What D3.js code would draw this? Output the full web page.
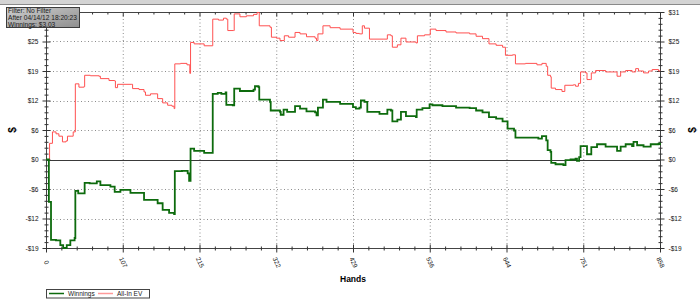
<!DOCTYPE html>
<html>
<head>
<meta charset="utf-8">
<script src="https://cdn.jsdelivr.net/npm/d3@7"></script>
<style>
  body { margin: 0; background: #fff; }
  svg { display: block; }
  text { font-family: "Liberation Sans", Arial, sans-serif; }
</style>
</head>
<body>
<div id="chart"></div>
<script>
// hand number, dollars
const winnings = [
  [0,0],[4,-8.9],[7,-16.9],[14,-17.0],[20,-18.0],[24,-18.6],[29,-18.0],[34,-17.0],[40,-16.5],
  [41,-6.6],[45,-7.1],[54,-4.9],[61,-5.0],[71,-4.6],[76,-5.4],[90,-5.7],[96,-6.8],[104,-6.4],
  [118,-7.0],[137,-8.5],[156,-9.2],[163,-10.6],[172,-11.2],[179,-11.5],[180,-2.45],[190,-2.4],
  [198,-2.9],[200,-4.5],[202,2.3],[207,1.8],[221,1.4],[233,13.8],[240,14.0],[245,13.8],[251,14.1],
  [252,11.5],[261,11.4],[263,14.9],[271,14.4],[290,14.7],[292,15.4],[297,15.2],[298,12.6],
  [313,12.1],[314,10.3],[327,10.0],[328,9.4],[332,10.5],[337,10.0],[348,11.2],[355,10.7],
  [364,10.1],[376,9.9],[378,9.3],[380,10.9],[387,12.6],[392,12.1],[411,11.7],[429,11.0],
  [433,10.7],[438,10.9],[440,12.4],[445,12.1],[449,10.0],[466,9.6],[477,10.5],[482,10.3],
  [484,8.0],[491,8.4],[496,10.0],[503,9.1],[517,8.9],[518,10.5],[526,10.8],[536,11.6],[540,11.4],
  [554,11.2],[573,10.9],[592,10.8],[601,10.3],[610,9.9],[619,8.9],[629,8.6],[638,8.0],[645,6.5],
  [654,6.1],[656,4.6],[670,4.6],[688,4.4],[693,4.9],[699,4.0],[701,1.95],[705,1.6],[706,-0.7],
  [712,-1.0],[723,-1.2],[726,-0.15],[733,0.0],[740,0.2],[742,-0.3],[745,0.5],[747,2.8],[755,2.8],
  [756,1.1],[761,1.1],[762,2.6],[770,3.2],[782,2.7],[798,1.8],[803,2.7],[810,3.2],[819,2.8],
  [821,3.7],[826,3.0],[835,2.7],[845,3.2],[856,3.35],[858,3.03]
];

const allInEV = [
  [0,0],[5,3.4],[9,5.8],[14,5.4],[18,4.9],[23,3.7],[28,3.9],[30,4.9],[35,4.9],[38,5.8],
  [41,15.9],[46,15.2],[53,15.3],[54,17.7],[62,17.6],[74,17.5],[76,17.0],[88,16.6],[96,16.5],
  [97,15.1],[100,15.8],[119,15.8],[121,14.9],[130,14.7],[137,14.2],[139,13.5],[146,13.8],
  [156,12.8],[163,11.9],[170,11.4],[176,11.2],[179,10.7],[180,20.1],[188,20.2],[197,19.9],
  [201,18.1],[202,24.6],[207,24.3],[221,23.9],[233,29.5],[241,29.3],[248,29.7],[252,29.5],
  [254,27.1],[262,27.1],[263,30.6],[271,30.0],[280,30.2],[290,30.5],[295,30.9],[298,28.1],
  [313,27.8],[315,25.7],[322,25.5],[327,25.0],[333,26.0],[339,25.7],[348,26.7],[355,26.4],
  [364,25.8],[376,25.5],[378,25.0],[380,26.4],[387,28.1],[397,27.7],[411,27.4],[429,26.7],
  [433,26.5],[438,26.4],[442,28.1],[445,27.6],[452,25.3],[471,25.3],[477,26.2],[482,26.0],
  [484,23.6],[491,24.1],[496,25.5],[503,24.7],[517,24.5],[519,26.0],[529,26.2],[537,27.4],
  [545,27.1],[559,26.8],[573,26.6],[592,26.4],[601,25.9],[610,25.4],[619,24.3],[629,24.0],
  [638,23.6],[642,21.9],[652,22.0],[656,20.1],[670,20.2],[686,19.9],[693,20.2],[699,19.6],
  [701,17.7],[705,17.4],[706,15.0],[712,14.7],[721,14.3],[725,15.6],[737,15.7],[740,15.4],
  [744,16.0],[747,18.4],[754,18.2],[756,16.8],[761,16.8],[762,18.2],[768,18.7],[782,18.4],
  [798,17.5],[803,18.4],[810,18.7],[819,18.4],[824,19.1],[828,18.6],[835,18.2],[842,18.6],
  [847,18.9],[856,18.6],[858,18.7]
];

const xTickValues = [0, 107.25, 214.5, 321.75, 429, 536.25, 643.5, 750.75, 858];
const xTickLabels = ["0", "107", "215", "322", "429", "536", "644", "751", "858"];
const yTickValues = [-18.6, -12.4, -6.2, 0, 6.2, 12.4, 18.6, 24.8, 31];
const yTickLabels = ["-$19", "-$12", "-$6", "$0", "$6", "$12", "$19", "$25", "$31"];
const seriesNames = ["Winnings", "All-In EV"];
const seriesColors = ["#0d6b0d", "#ff5050"];
const infoLines = ["Filter: No Filter", "After 04/14/12 18:20:23", "Winnings: $3.03"];

const W = 700, H = 299;
const plot = {left: 46, right: 660, top: 12, bottom: 248};

const svg = d3.select("#chart").append("svg")
  .attr("width", W)
  .attr("height", H);

// strip at the very top
svg.append("rect").attr("x", 0).attr("y", 0).attr("width", W).attr("height", 4).attr("fill", "#d4d4d4");
svg.append("line").attr("x1", 0).attr("x2", W).attr("y1", 4.5).attr("y2", 4.5).attr("stroke", "#8a8a8a");

const x = d3.scaleLinear().domain([0, 858]).range([plot.left, plot.right]);
const y = d3.scaleLinear().domain([-18.6, 31]).range([plot.bottom, plot.top]);

// minor ticks: 4 between each major
const minorX = [], minorY = [];
for (let i = 0; i < xTickValues.length - 1; i++)
  for (let k = 1; k < 5; k++) minorX.push(xTickValues[i] + (xTickValues[i+1] - xTickValues[i]) * k / 5);
for (let i = 0; i < yTickValues.length - 1; i++)
  for (let k = 1; k < 5; k++) minorY.push(yTickValues[i] + (yTickValues[i+1] - yTickValues[i]) * k / 5);

// grid
const grid = svg.append("g").attr("stroke", "#8c8c8c").attr("stroke-dasharray", "1,2.5");
grid.selectAll("line.gx").data(xTickValues.slice(1, -1)).join("line")
  .attr("x1", d => x(d) + 0.5).attr("x2", d => x(d) + 0.5)
  .attr("y1", plot.top).attr("y2", plot.bottom);
grid.selectAll("line.gy").data(yTickValues.slice(0, -1).filter(d => d !== 0)).join("line")
  .attr("y1", d => Math.round(y(d)) + 0.5).attr("y2", d => Math.round(y(d)) + 0.5)
  .attr("x1", plot.left).attr("x2", plot.right);

// zero line
svg.append("line")
  .attr("x1", plot.left).attr("x2", plot.right)
  .attr("y1", Math.round(y(0)) + 0.5).attr("y2", Math.round(y(0)) + 0.5)
  .attr("stroke", "#3a3a3a");

// frame
svg.append("rect")
  .attr("x", plot.left + 0.5).attr("y", plot.top + 0.5)
  .attr("width", plot.right - plot.left).attr("height", plot.bottom - plot.top)
  .attr("fill", "none").attr("stroke", "#444");

function crossTicks(g) {
  g.select(".domain").remove();
  g.selectAll(".tick line").attr("stroke", "#333");
}

// left axis (top label sits under the info box, so it is left out)
const leftAxis = svg.append("g").attr("transform", `translate(${plot.left + 0.5},0)`);
leftAxis.call(d3.axisLeft(y).tickValues(yTickValues)
    .tickFormat((d, i) => i === yTickValues.length - 1 ? "" : yTickLabels[i]).tickSize(4).tickPadding(4))
  .call(crossTicks);
leftAxis.selectAll(".tick line").attr("x1", 4);
leftAxis.append("g").call(d3.axisLeft(y).tickValues(minorY).tickFormat("").tickSize(2))
  .call(crossTicks).selectAll(".tick line").attr("x1", 2);

// right axis
const rightAxis = svg.append("g").attr("transform", `translate(${plot.right + 0.5},0)`);
rightAxis.call(d3.axisRight(y).tickValues(yTickValues).tickFormat((d, i) => yTickLabels[i]).tickSize(4).tickPadding(4))
  .call(crossTicks);
rightAxis.selectAll(".tick line").attr("x1", -4);
rightAxis.append("g").call(d3.axisRight(y).tickValues(minorY).tickFormat("").tickSize(2))
  .call(crossTicks).selectAll(".tick line").attr("x1", -2);

// bottom axis
const bottomAxis = svg.append("g").attr("transform", `translate(0,${plot.bottom + 0.5})`);
bottomAxis.call(d3.axisBottom(x).tickValues(xTickValues).tickFormat((d, i) => xTickLabels[i]).tickSize(4))
  .call(crossTicks);
bottomAxis.selectAll(".tick line").attr("y1", -4);
bottomAxis.append("g").call(d3.axisBottom(x).tickValues(minorX).tickFormat("").tickSize(2))
  .call(crossTicks).selectAll(".tick line").attr("y1", -2);
bottomAxis.selectAll(".tick text")
  .attr("y", 0).attr("dy", "0.35em")
  .attr("transform", "translate(0,14) rotate(65)")
  .style("text-anchor", "middle");

// top axis
const topAxis = svg.append("g").attr("transform", `translate(0,${plot.top + 0.5})`);
topAxis.call(d3.axisBottom(x).tickValues(xTickValues).tickFormat("").tickSize(4)).call(crossTicks);
topAxis.append("g").call(d3.axisBottom(x).tickValues(minorX).tickFormat("").tickSize(2)).call(crossTicks);

svg.selectAll(".tick text").attr("fill", "#111").style("font-size", "6.5px")
  .style("font-family", "'Liberation Sans', Arial, sans-serif");

// series
const line = d3.line().x(d => x(d[0])).y(d => y(d[1])).curve(d3.curveStepAfter);
svg.append("path").datum(allInEV)
  .attr("d", line).attr("fill", "none").attr("stroke", seriesColors[1]).attr("stroke-width", 1);
svg.append("path").datum(winnings)
  .attr("d", line).attr("fill", "none").attr("stroke", seriesColors[0]).attr("stroke-width", 1.8);

// axis titles
svg.append("text").attr("transform", `translate(15.5,130) rotate(-90)`)
  .attr("text-anchor", "middle").style("font-size", "10px").style("font-weight", "bold").text("$");
svg.append("text").attr("transform", `translate(696,130) rotate(-90)`)
  .attr("text-anchor", "middle").style("font-size", "10px").style("font-weight", "bold").text("$");
svg.append("text").attr("x", 353).attr("y", 282)
  .attr("text-anchor", "middle").style("font-size", "8.5px").style("font-weight", "bold").text("Hands");

// legend
const legend = svg.append("g").attr("transform", "translate(46,289)");
legend.append("rect").attr("x", 0.5).attr("y", 0.5).attr("width", 103).attr("height", 8.5)
  .attr("fill", "#fff").attr("stroke", "#444");
const legendX = [3, 52];
legend.selectAll("line.key").data(seriesNames).join("line")
  .attr("x1", (d, i) => legendX[i]).attr("x2", (d, i) => legendX[i] + 15)
  .attr("y1", 4.5).attr("y2", 4.5)
  .attr("stroke", (d, i) => i === 0 ? seriesColors[0] : "#ff9a9a")
  .attr("stroke-width", 1.5);
legend.selectAll("text").data(seriesNames).join("text")
  .attr("x", (d, i) => legendX[i] + 19).attr("y", 6.8)
  .style("font-size", "6.5px").attr("fill", "#222").text(d => d);

// info box
const defs = svg.append("defs");
const grad = defs.append("linearGradient").attr("id", "infoGrad").attr("x1", 0).attr("y1", 0).attr("x2", 1).attr("y2", 1);
grad.append("stop").attr("offset", "0%").attr("stop-color", "#cfcfcf");
grad.append("stop").attr("offset", "100%").attr("stop-color", "#8e8e8e");
const info = svg.append("g").attr("transform", "translate(6,7)");
info.append("rect").attr("x", 0.5).attr("y", 0.5).attr("width", 73).attr("height", 20)
  .attr("fill", "url(#infoGrad)").attr("stroke", "#3c3c3c");
info.selectAll("text").data(infoLines).join("text")
  .attr("x", 2).attr("y", (d, i) => 6.3 + i * 6.6)
  .style("font-size", "6.6px").attr("fill", "#1a1a1a").text(d => d);
</script>
</body>
</html>
